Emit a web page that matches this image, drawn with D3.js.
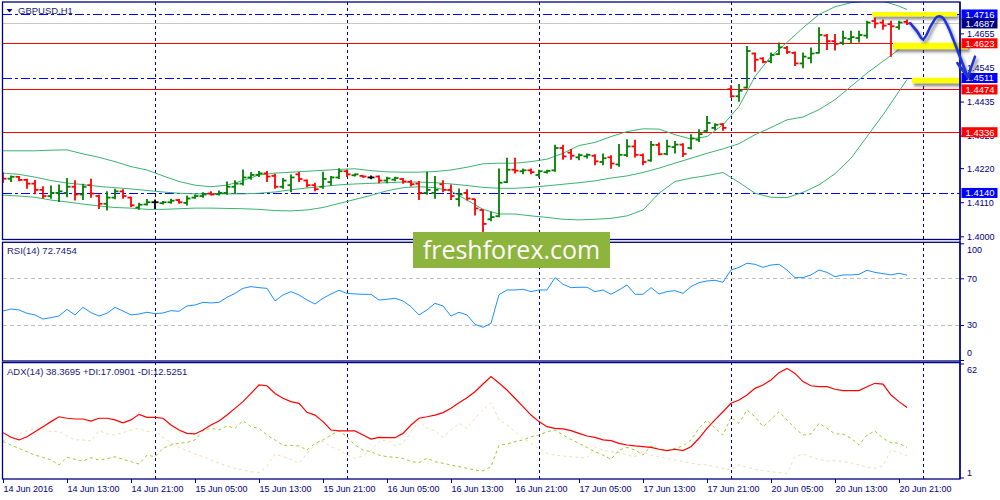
<!DOCTYPE html>
<html>
<head>
<meta charset="utf-8" />
<script src="https://cdn.jsdelivr.net/npm/d3@7/dist/d3.min.js"></script>
<style>
  body { margin: 0; background: #fff; }
  svg { display: block; font-family: "Liberation Sans", Arial, sans-serif; }
</style>
</head>
<body>
<svg id="chart" width="1000" height="500"></svg>
<script>
// GBPUSD H1, one entry per hourly bar (14 Jun 05:00 .. 20 Jun 22:00)
const open = [1.4200,1.4186,1.4192,1.4182,1.4170,1.4150,1.4130,1.4140,1.4140,1.4160,
  1.4135,1.4165,1.4130,1.4105,1.4125,1.4145,1.4125,1.4093,1.4103,1.4110,
  1.4107,1.4110,1.4117,1.4108,1.4125,1.4130,1.4138,1.4136,1.4140,1.4160,
  1.4170,1.4190,1.4198,1.4203,1.4195,1.4160,1.4165,1.4200,1.4180,1.4165,
  1.4160,1.4175,1.4190,1.4210,1.4197,1.4195,1.4190,1.4193,1.4180,1.4183,
  1.4185,1.4176,1.4170,1.4140,1.4140,1.4168,1.4150,1.4120,1.4140,1.4120,
  1.4085,1.4055,1.4065,1.4175,1.4215,1.4210,1.4213,1.4198,1.4207,1.4213,
  1.4285,1.4270,1.4255,1.4258,1.4260,1.4240,1.4255,1.4232,1.4262,1.4290,
  1.4262,1.4245,1.4295,1.4266,1.4288,1.4296,1.4285,1.4312,1.4340,1.4350,
  1.4362,1.4475,1.4452,1.4480,1.4590,1.4574,1.4565,1.4588,1.4608,1.4592,
  1.4558,1.4575,1.4592,1.4648,1.4630,1.4625,1.4637,1.4640,1.4648,1.4695,
  1.4690,1.4685,1.4675,1.4692];
const high = [1.4204,1.4195,1.4193,1.4184,1.4180,1.4160,1.4162,1.4166,1.4187,1.4179,
  1.4168,1.4184,1.4133,1.4144,1.4152,1.4150,1.4126,1.4107,1.4119,1.4117,
  1.4112,1.4120,1.4119,1.4130,1.4133,1.4141,1.4144,1.4146,1.4175,1.4179,
  1.4214,1.4206,1.4209,1.4209,1.4200,1.4187,1.4198,1.4206,1.4182,1.4171,
  1.4207,1.4193,1.4218,1.4214,1.4201,1.4195,1.4195,1.4195,1.4191,1.4191,
  1.4187,1.4179,1.4177,1.4207,1.4193,1.4179,1.4166,1.4153,1.4150,1.4120,
  1.4085,1.4078,1.4217,1.4252,1.4252,1.4217,1.4217,1.4213,1.4213,1.4294,
  1.4294,1.4280,1.4266,1.4266,1.4263,1.4266,1.4260,1.4296,1.4312,1.4310,
  1.4266,1.4306,1.4301,1.4310,1.4306,1.4299,1.4328,1.4344,1.4387,1.4363,
  1.4363,1.4486,1.4490,1.4613,1.4592,1.4576,1.4592,1.4624,1.4613,1.4595,
  1.4592,1.4608,1.4673,1.4651,1.4651,1.4662,1.4662,1.4662,1.4694,1.4705,
  1.4698,1.4694,1.4694,1.4698];
const low = [1.4174,1.4177,1.4179,1.4155,1.4137,1.4123,1.4123,1.4112,1.4128,1.4117,
  1.4119,1.4126,1.4090,1.4085,1.4121,1.4123,1.4096,1.4087,1.4101,1.4090,
  1.4104,1.4107,1.4107,1.4101,1.4123,1.4126,1.4133,1.4133,1.4136,1.4139,
  1.4166,1.4184,1.4193,1.4177,1.4155,1.4155,1.4144,1.4177,1.4160,1.4147,
  1.4155,1.4166,1.4187,1.4193,1.4195,1.4191,1.4186,1.4173,1.4173,1.4179,
  1.4171,1.4162,1.4119,1.4136,1.4123,1.4144,1.4119,1.4098,1.4117,1.4069,
  1.4015,1.4050,1.4063,1.4174,1.4204,1.4202,1.4202,1.4191,1.4204,1.4210,
  1.4249,1.4249,1.4247,1.4253,1.4231,1.4231,1.4220,1.4226,1.4258,1.4256,
  1.4231,1.4242,1.4263,1.4263,1.4269,1.4258,1.4282,1.4306,1.4339,1.4344,
  1.4342,1.4449,1.4436,1.4479,1.4533,1.4560,1.4560,1.4587,1.4590,1.4551,
  1.4544,1.4560,1.4592,1.4603,1.4601,1.4619,1.4624,1.4627,1.4640,1.4673,
  1.4668,1.4581,1.4668,1.4684];
const close = [1.4186,1.4192,1.4182,1.4170,1.4150,1.4130,1.4140,1.4145,1.4160,1.4135,
  1.4160,1.4138,1.4105,1.4125,1.4145,1.4130,1.4100,1.4102,1.4110,1.4110,
  1.4110,1.4115,1.4110,1.4122,1.4130,1.4135,1.4135,1.4140,1.4160,1.4170,
  1.4190,1.4198,1.4203,1.4193,1.4160,1.4180,1.4190,1.4185,1.4165,1.4152,
  1.4185,1.4190,1.4210,1.4200,1.4200,1.4193,1.4190,1.4180,1.4187,1.4188,
  1.4177,1.4168,1.4140,1.4150,1.4150,1.4150,1.4130,1.4135,1.4122,1.4090,
  1.4040,1.4062,1.4173,1.4215,1.4212,1.4213,1.4207,1.4210,1.4211,1.4285,
  1.4258,1.4260,1.4262,1.4263,1.4242,1.4252,1.4235,1.4263,1.4290,1.4263,
  1.4240,1.4295,1.4265,1.4290,1.4296,1.4266,1.4316,1.4330,1.4366,1.4360,
  1.4350,1.4452,1.4470,1.4598,1.4570,1.4563,1.4585,1.4610,1.4595,1.4558,
  1.4580,1.4590,1.4650,1.4630,1.4621,1.4640,1.4643,1.4650,1.4690,1.4687,
  1.4680,1.4678,1.4690,1.4687];

// Bollinger bands, read every second bar
const bandBars = d3.range(0, 113, 2).concat([113]);
const bbUpper = [1.4276,1.4276,1.4276,1.4278,1.4279,1.4266,1.4255,1.4241,1.4225,1.4214,
  1.4195,1.4177,1.4165,1.4160,1.4165,1.4180,1.4198,1.4204,1.4207,1.4210,
  1.4213,1.4216,1.4218,1.4212,1.4208,1.4207,1.4207,1.4209,1.4214,1.4223,
  1.4234,1.4236,1.4236,1.4241,1.4249,1.4268,1.4293,1.4303,1.4322,1.4338,
  1.4347,1.4346,1.4328,1.4314,1.4322,1.4360,1.4419,1.4516,1.4581,1.4626,
  1.4673,1.4716,1.4741,1.4754,1.4759,1.4759,1.4743,1.4732];
const bbMiddle = [1.4204,1.4200,1.4191,1.4180,1.4172,1.4167,1.4161,1.4157,1.4153,1.4148,
  1.4143,1.4139,1.4137,1.4137,1.4137,1.4137,1.4139,1.4143,1.4150,1.4156,
  1.4161,1.4166,1.4169,1.4171,1.4173,1.4175,1.4175,1.4173,1.4169,1.4164,
  1.4158,1.4155,1.4155,1.4158,1.4163,1.4168,1.4173,1.4179,1.4188,1.4195,
  1.4206,1.4220,1.4236,1.4252,1.4268,1.4282,1.4299,1.4328,1.4351,1.4376,
  1.4385,1.4409,1.4441,1.4484,1.4527,1.4565,1.4603,1.4619];
const bbLower = [1.4133,1.4130,1.4126,1.4117,1.4111,1.4104,1.4098,1.4093,1.4091,1.4087,
  1.4087,1.4089,1.4091,1.4091,1.4090,1.4089,1.4087,1.4083,1.4082,1.4085,
  1.4093,1.4106,1.4119,1.4132,1.4147,1.4157,1.4160,1.4157,1.4146,1.4117,
  1.4087,1.4072,1.4072,1.4066,1.4061,1.4055,1.4053,1.4055,1.4058,1.4066,
  1.4085,1.4139,1.4177,1.4188,1.4196,1.4206,1.4174,1.4139,1.4126,1.4125,
  1.4142,1.4166,1.4202,1.4252,1.4322,1.4392,1.4468,1.4506];

const rsi = [42.0,43.7,42.9,40.0,38.6,35.1,36.3,37.7,43.4,38.6,
  45.1,40.6,37.7,40.0,45.1,42.0,38.6,39.4,40.9,39.7,
  40.3,42.3,41.7,46.3,47.1,49.4,48.9,49.4,53.7,57.1,
  61.4,62.9,62.0,61.4,50.6,55.7,58.6,55.7,51.4,48.0,
  52.9,56.6,59.7,57.1,56.6,56.3,56.3,51.4,52.0,52.9,
  50.6,45.7,38.6,42.9,48.6,46.3,37.7,40.9,38.6,30.6,
  28.0,31.4,56.0,60.0,60.0,60.6,58.6,60.0,60.0,70.6,
  64.9,62.0,62.3,62.3,58.6,60.0,56.3,60.0,64.3,56.3,
  56.3,62.0,56.6,58.6,59.4,57.1,62.9,66.3,67.7,68.3,
  66.6,77.1,79.4,82.9,82.0,79.4,81.4,82.0,77.1,70.6,
  70.6,72.9,77.1,75.1,71.4,72.9,72.9,73.4,76.9,75.1,
  74.0,72.9,74.3,72.7];

const adx = [25.0,22.5,21.1,22.8,25.5,28.2,30.9,33.5,32.7,32.3,
  32.3,31.2,32.7,32.7,31.8,30.3,31.8,34.8,33.2,33.2,
  32.7,29.1,26.4,24.6,24.3,26.4,29.1,31.2,34.4,38.0,
  41.6,46.0,50.5,50.1,46.0,43.4,41.6,40.7,35.9,34.4,
  30.9,26.4,25.9,25.9,25.9,23.7,21.6,22.5,22.3,22.3,
  24.6,29.1,32.7,33.5,34.4,35.7,38.0,41.0,43.7,46.9,
  51.0,55.0,51.6,47.8,43.4,38.9,34.4,30.9,28.2,27.3,
  27.0,26.1,24.6,23.2,22.5,21.1,20.7,19.3,18.4,17.9,
  17.5,17.1,16.1,15.4,16.1,15.4,17.5,22.0,27.3,31.8,
  36.2,40.7,42.5,45.1,48.7,50.5,53.2,57.1,59.4,56.7,
  52.3,50.1,49.6,49.6,48.2,47.5,47.5,47.5,49.6,51.4,
  51.0,45.1,41.6,38.4];
const plusDI = [20.2,18.4,16.6,14.8,13.0,11.8,10.4,7.7,11.8,10.7,
  9.8,11.6,10.4,11.1,12.1,10.7,9.5,8.2,13.0,12.1,
  16.6,18.4,19.3,19.8,21.1,26.1,27.3,26.4,28.6,27.3,
  31.4,28.2,27.3,23.7,21.1,18.2,18.2,17.9,15.7,19.3,
  21.1,23.7,26.1,22.8,18.4,15.7,14.8,13.0,12.1,11.8,
  11.3,9.5,8.9,11.3,9.5,8.6,7.7,6.8,5.9,5.0,
  4.5,6.8,18.2,18.9,20.2,21.1,22.8,23.7,25.5,26.4,
  23.7,21.4,19.3,17.1,14.8,13.0,10.7,15.7,17.1,15.7,
  13.0,17.9,16.1,15.4,16.6,17.9,21.1,27.3,31.8,27.3,
  23.7,33.2,30.0,37.1,33.5,28.2,32.1,36.2,31.8,27.3,
  23.7,24.3,30.0,27.3,24.3,24.3,22.0,18.4,23.7,25.9,
  22.0,19.6,19.3,17.1];
const minusDI = [20.5,22.5,24.3,26.1,27.3,26.8,25.5,25.5,23.2,21.1,
  21.1,20.5,26.1,24.3,23.7,25.0,26.4,27.3,25.5,26.1,
  22.5,19.6,17.1,15.4,13.6,12.1,10.4,8.6,7.2,5.9,
  5.0,4.1,3.6,7.2,13.6,12.1,10.7,8.6,13.9,18.4,
  20.2,17.5,15.7,13.0,11.3,12.5,15.7,20.2,21.1,17.9,
  19.3,25.5,31.4,27.3,26.1,22.5,26.4,30.0,27.3,32.7,
  37.1,41.0,32.0,29.1,25.5,22.0,19.3,16.6,13.9,13.0,
  12.5,12.1,11.8,11.3,17.1,15.7,14.8,14.3,13.0,12.1,
  14.8,13.0,12.1,11.3,10.4,9.5,8.6,8.0,7.7,6.8,
  5.9,5.0,7.7,6.4,5.4,4.7,4.1,3.6,3.2,12.1,
  13.6,12.1,10.7,9.8,10.0,9.5,8.9,7.7,6.4,5.9,
  7.2,15.7,14.3,12.5];

const timeLabels = ["14 Jun 2016","14 Jun 13:00","14 Jun 21:00","15 Jun 05:00","15 Jun 13:00",
  "15 Jun 21:00","16 Jun 05:00","16 Jun 13:00","16 Jun 21:00","17 Jun 05:00",
  "17 Jun 13:00","17 Jun 21:00","20 Jun 05:00","20 Jun 13:00","20 Jun 21:00"];
const labelBars = d3.range(0, 113, 8);
const dayBreaks = [19, 43, 67, 91, 115];

const priceTicks = [1.4655, 1.4545, 1.4435, 1.4325, 1.4220, 1.4110, 1.4000];
const rsiTicks = [100, 70, 30, 0];
const rsiLevels = [70, 30];
const adxTicks = [62, 1];

const redLevels = [1.4623, 1.4474, 1.4336];
const blueLevels = [1.4716, 1.4511, 1.4140];
const bidPrice = 1.4687;
const priceMarks = [
  { v: 1.4716, c: "#0000ff" }, { v: 1.4687, c: "#000080" }, { v: 1.4623, c: "#ff0000" },
  { v: 1.4511, c: "#0000ff" }, { v: 1.4474, c: "#ff0000" }, { v: 1.4336, c: "#ff0000" },
  { v: 1.4140, c: "#0000ff" }
];

// hand drawn forecast: zones and arrow, in bar / price units
const zones = [
  { from: 108.6, to: 119.25, top: 1.4724, bottom: 1.4710 },
  { from: 111.25, to: 120.6, top: 1.4625, bottom: 1.4604 },
  { from: 113.6, to: 119.6, top: 1.4512, bottom: 1.4494 }
];
const arrowPath = [[113.4, 1.4688], [114.3, 1.4660], [115.0, 1.4636], [116.0, 1.4680],
  [116.8, 1.4709], [117.4, 1.4707], [118.1, 1.4678], [118.8, 1.4634], [119.7, 1.4574], [120.6, 1.4514]];
const arrowHead = [[119.3, 1.4559], [120.6, 1.4514], [121.5, 1.4580]];

const navy = "#000080";
const svg = d3.select("#chart");

const x = d3.scaleLinear().domain([0, 119.625]).range([3, 960]);
const yPrice = d3.scaleLinear().domain([1.39881, 1.47563]).range([240, 2]);
const yRsi = d3.scaleLinear().domain([0, 100]).range([360, 243.3]);
const yAdx = d3.scaleLinear().domain([1, 62]).range([477.5, 363.5]);
const px = v => Math.round(v) + 0.5; // snap 1px lines to the pixel grid

const defs = svg.append("defs");
defs.append("clipPath").attr("id", "mainClip")
  .append("rect").attr("x", 3).attr("y", 2).attr("width", 957).attr("height", 238);
defs.append("clipPath").attr("id", "rsiClip")
  .append("rect").attr("x", 3).attr("y", 242).attr("width", 957).attr("height", 119);
defs.append("clipPath").attr("id", "adxClip")
  .append("rect").attr("x", 3).attr("y", 362).attr("width", 957).attr("height", 117);
defs.append("filter").attr("id", "shadow").attr("x", "-20%").attr("y", "-50%")
  .attr("width", "150%").attr("height", "250%")
  .append("feDropShadow").attr("dx", 2).attr("dy", 3).attr("stdDeviation", 1.6)
  .attr("flood-color", "#333").attr("flood-opacity", 0.55);

svg.append("rect").attr("width", 1000).attr("height", 500).attr("fill", "#fff");

// day separators
svg.append("g").selectAll("line").data(dayBreaks).join("line")
  .attr("x1", d => px(x(d))).attr("x2", d => px(x(d))).attr("y1", 2).attr("y2", 479)
  .attr("stroke", navy).attr("stroke-width", 1).attr("stroke-dasharray", "3,3")
  .attr("shape-rendering", "crispEdges");

// main panel
const main = svg.append("g").attr("clip-path", "url(#mainClip)");

main.append("line").attr("x1", 3).attr("x2", 960)
  .attr("y1", px(yPrice(bidPrice))).attr("y2", px(yPrice(bidPrice)))
  .attr("stroke", "#c8c8c8").attr("stroke-width", 1).attr("shape-rendering", "crispEdges");

main.selectAll(".red-level").data(redLevels).join("line").attr("class", "red-level")
  .attr("x1", 3).attr("x2", 960).attr("y1", d => px(yPrice(d))).attr("y2", d => px(yPrice(d)))
  .attr("stroke", "#ff0000").attr("stroke-width", 1).attr("shape-rendering", "crispEdges");

main.selectAll(".blue-level").data(blueLevels).join("line").attr("class", "blue-level")
  .attr("x1", 3).attr("x2", 960).attr("y1", d => px(yPrice(d))).attr("y2", d => px(yPrice(d)))
  .attr("stroke", "#0000ff").attr("stroke-width", 1).attr("stroke-dasharray", "9,3,3,3")
  .attr("shape-rendering", "crispEdges");

const bandLine = d3.line().x((d, k) => x(bandBars[k])).y(d => yPrice(d));
[bbUpper, bbMiddle, bbLower].forEach(series => {
  main.append("path").attr("d", bandLine(series))
    .attr("fill", "none").attr("stroke", "#3cb371").attr("stroke-width", 1);
});

const bars = d3.range(open.length).map(i => ({ i, o: open[i], h: high[i], l: low[i], c: close[i] }));
const barColor = d => d.c > d.o ? "#008000" : d.c < d.o ? "#ff0000" : "#000000";
const barG = main.append("g").selectAll("g").data(bars).join("g")
  .attr("stroke", barColor).attr("stroke-width", 1.8);
barG.append("line").attr("x1", d => x(d.i)).attr("x2", d => x(d.i))
  .attr("y1", d => yPrice(d.h) - 0.5).attr("y2", d => yPrice(d.l) + 0.5);
barG.append("line").attr("x1", d => x(d.i) - 3.5).attr("x2", d => x(d.i))
  .attr("y1", d => yPrice(d.o)).attr("y2", d => yPrice(d.o));
barG.append("line").attr("x1", d => x(d.i)).attr("x2", d => x(d.i) + 3.5)
  .attr("y1", d => yPrice(d.c)).attr("y2", d => yPrice(d.c));

// yellow forecast zones
svg.append("g").selectAll("rect").data(zones).join("rect")
  .attr("x", d => x(d.from)).attr("width", d => x(d.to) - x(d.from))
  .attr("y", d => yPrice(d.top)).attr("height", d => yPrice(d.bottom) - yPrice(d.top))
  .attr("fill", "#ffff00").attr("filter", "url(#shadow)");

// RSI panel
const rsiG = svg.append("g").attr("clip-path", "url(#rsiClip)");
rsiG.selectAll("line").data(rsiLevels).join("line")
  .attr("x1", 3).attr("x2", 960).attr("y1", d => px(yRsi(d))).attr("y2", d => px(yRsi(d)))
  .attr("stroke", "#c0c0c0").attr("stroke-dasharray", "4,3").attr("shape-rendering", "crispEdges");
rsiG.append("path")
  .attr("d", d3.line().x((d, i) => x(i)).y(d => yRsi(d))(rsi))
  .attr("fill", "none").attr("stroke", "#1e90ff").attr("stroke-width", 1);

// ADX panel
const adxG = svg.append("g").attr("clip-path", "url(#adxClip)");
const adxLine = d3.line().x((d, i) => x(i)).y(d => yAdx(d));
adxG.append("path").attr("d", adxLine(minusDI))
  .attr("fill", "none").attr("stroke", "#f5deb3").attr("stroke-width", 1).attr("stroke-dasharray", "3,3");
adxG.append("path").attr("d", adxLine(plusDI))
  .attr("fill", "none").attr("stroke", "#9acd32").attr("stroke-width", 1).attr("stroke-dasharray", "3,3");
adxG.append("path").attr("d", adxLine(adx))
  .attr("fill", "none").attr("stroke", "#ff0000").attr("stroke-width", 1.2);

// panel frames
const frames = [[2, 239.5], [242.3, 361], [362.6, 479]];
svg.append("g").selectAll("rect").data(frames).join("rect")
  .attr("x", 2.5).attr("y", d => d[0]).attr("width", 957.5).attr("height", d => d[1] - d[0])
  .attr("fill", "none").attr("stroke", navy).attr("stroke-width", 1.3);

// axes
function styleAxis(g) {
  g.attr("font-family", "'Liberation Sans', Arial, sans-serif").attr("font-size", 9)
    .attr("color", navy);
  g.select(".domain").remove();
}
svg.append("g").attr("transform", "translate(960,0)")
  .call(d3.axisRight(yPrice).tickValues(priceTicks).tickSize(4).tickPadding(3)
    .tickFormat(d3.format(".4f")))
  .call(styleAxis);

const rsiAxis = svg.append("g").attr("transform", "translate(960,0)")
  .call(d3.axisRight(yRsi).tickValues(rsiTicks).tickSize(4).tickPadding(3))
  .call(styleAxis);
rsiAxis.selectAll("text").attr("y", d => d === 100 ? 6 : d === 0 ? -7 : 0);

const adxAxis = svg.append("g").attr("transform", "translate(960,0)")
  .call(d3.axisRight(yAdx).tickValues(adxTicks).tickSize(4).tickPadding(3))
  .call(styleAxis);
adxAxis.selectAll("text").attr("y", d => d === 62 ? 6 : -5);

const timeAxis = svg.append("g").attr("transform", "translate(0,479)")
  .call(d3.axisBottom(x).tickValues(labelBars).tickSize(4).tickPadding(3)
    .tickFormat((d, i) => timeLabels[i]))
  .call(styleAxis);
timeAxis.selectAll("text").attr("text-anchor", "start");

svg.append("line").attr("x1", 960).attr("x2", 960).attr("y1", 2).attr("y2", 479)
  .attr("stroke", navy).attr("stroke-width", 1.3);

// price tags on the right scale
const tags = svg.append("g").selectAll("g").data(priceMarks).join("g")
  .attr("transform", d => `translate(961.5,${yPrice(d.v)})`);
tags.append("rect").attr("x", 0).attr("y", -5).attr("width", 36).attr("height", 10)
  .attr("fill", d => d.c);
tags.append("text").attr("x", 4).attr("y", 3.5).attr("fill", "#fff")
  .attr("font-size", 9.5).text(d => d.v.toFixed(4));

// forecast arrow
const arrowLine = d3.line().x(d => x(d[0])).y(d => yPrice(d[1]));
const arrowG = svg.append("g").attr("filter", "url(#shadow)")
  .attr("fill", "none").attr("stroke", "#1f35d8").attr("stroke-width", 2.6)
  .attr("stroke-linecap", "round").attr("stroke-linejoin", "round");
arrowG.append("path").attr("d", arrowLine.curve(d3.curveCatmullRom.alpha(0.5))(arrowPath));
arrowG.append("path").attr("d", d3.line().x(d => x(d[0])).y(d => yPrice(d[1]))(arrowHead));

// watermark
svg.append("rect").attr("x", 413).attr("y", 232).attr("width", 197).attr("height", 36)
  .attr("fill", "#8db53d");
svg.append("text").attr("x", 511.5).attr("y", 259).attr("text-anchor", "middle")
  .attr("font-family", "'Open Sans', 'Noto Sans', sans-serif").attr("font-size", 25)
  .attr("fill", "#fff").text("freshforex.com");

// titles
svg.append("path").attr("d", "M6.5,9 L12.5,9 L9.5,12.5 Z").attr("fill", navy);
svg.append("text").attr("x", 18).attr("y", 13.5).attr("font-size", 9.5)
  .attr("fill", "#1a1a7a").text("GBPUSD,H1");
svg.append("text").attr("x", 7).attr("y", 254).attr("font-size", 9.5)
  .attr("fill", "#1a1a7a").text("RSI(14) 72.7454");
svg.append("text").attr("x", 7).attr("y", 375).attr("font-size", 9.5)
  .attr("fill", "#1a1a7a").text("ADX(14) 38.3695 +DI:17.0901 -DI:12.5251");
</script>
</body>
</html>
